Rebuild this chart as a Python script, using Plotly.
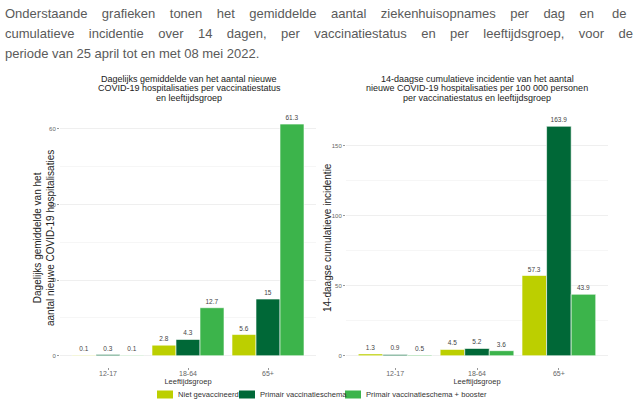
import plotly.graph_objects as go

# leeftijdsgroepen en vaccinatiestatus
groepen = ["12-17", "18-64", "65+"]
statussen = ["Niet gevaccineerd", "Primair vaccinatieschema", "Primair vaccinatieschema + booster"]
kleuren = ["#bccf00", "#006837", "#3cb44b"]

# dagelijks gemiddelde nieuwe hospitalisaties
dagelijks_niet = [0.1, 2.8, 5.6]
dagelijks_primair = [0.3, 4.3, 15]
dagelijks_booster = [0.1, 12.7, 61.3]

# 14-daagse cumulatieve incidentie per 100 000
incidentie_niet = [1.3, 4.5, 57.3]
incidentie_primair = [0.9, 5.2, 163.9]
incidentie_booster = [0.5, 3.6, 43.9]

intro = [
    "Onderstaande grafieken tonen het gemiddelde aantal ziekenhuisopnames per dag en de",
    "cumulatieve incidentie over 14 dagen, per vaccinatiestatus en per leeftijdsgroep, voor de",
    "periode van 25 april tot en met 08 mei 2022.",
]
# extra spaties om de eerste twee regels uit te vullen
intro_extra = [31, 33, 0]

titel_links = ["Dagelijks gemiddelde van het aantal nieuwe",
               "COVID-19 hospitalisaties per vaccinatiestatus",
               "en leeftijdsgroep"]
titel_rechts = ["14-daagse cumulatieve incidentie van het aantal",
                "nieuwe COVID-19 hospitalisaties per 100 000 personen",
                "per vaccinatiestatus en leeftijdsgroep"]

W, H = 640, 402
FONT = "Liberation Sans, Arial, sans-serif"


def px(x):
    return x / W


def py(y):
    return 1 - y / H


def uitvullen(regel, extra):
    woorden = regel.split(" ")
    gaten = len(woorden) - 1
    if extra == 0 or gaten == 0:
        return regel
    uit = woorden[0]
    for k in range(gaten):
        n = extra * (k + 1) // gaten - extra * k // gaten
        uit += " " + "\u00a0" * n + woorden[k + 1]
    return uit


fig = go.Figure()

links = [dagelijks_niet, dagelijks_primair, dagelijks_booster]
rechts = [incidentie_niet, incidentie_primair, incidentie_booster]

for i, status in enumerate(statussen):
    for waarden, xa, ya in [(links[i], "x", "y"), (rechts[i], "x2", "y2")]:
        fig.add_trace(go.Bar(
            x=groepen, y=waarden, name=status, xaxis=xa, yaxis=ya,
            marker=dict(color=kleuren[i], line=dict(color="white", width=0.6)),
            text=[f"{v:g}" for v in waarden], textposition="outside",
            textfont=dict(size=6.5, color="#444444"), constraintext="none",
            cliponaxis=False, showlegend=False,
        ))

as_stijl = dict(
    showgrid=True, gridcolor="#efefef", gridwidth=0.6, zeroline=False,
    ticks="outside", ticklen=2, tickcolor="#999999",
    tickfont=dict(size=6, color="#666666"),
)
x_stijl = dict(
    range=[-0.6, 2.6], showgrid=False, ticks="outside", ticklen=2, tickcolor="#999999",
    tickfont=dict(size=7, color="#666666"), ticklabelstandoff=-3,
    title=dict(text="Leeftijdsgroep", font=dict(size=7.5, color="#333333"), standoff=0),
)

fig.update_layout(
    width=W, height=H,
    margin=dict(l=0, r=0, t=0, b=0),
    paper_bgcolor="white", plot_bgcolor="white",
    barmode="group", bargap=0.1, bargroupgap=0,
    font=dict(family=FONT),
    showlegend=False,
    xaxis=dict(domain=[px(60), px(316)], anchor="y", **x_stijl),
    xaxis2=dict(domain=[px(346), px(608)], anchor="y2", **x_stijl),
    yaxis=dict(domain=[py(367.3), py(112.5)], range=[-3.065, 64.365], anchor="x",
               tickvals=[0, 20, 40, 60], minor=dict(showgrid=True, dtick=10, gridcolor="#f6f6f6"),
               **as_stijl),
    yaxis2=dict(domain=[py(367.2), py(114.8)], range=[-8.2, 172.1], anchor="x2",
                tickvals=[0, 50, 100, 150], minor=dict(showgrid=True, dtick=25, gridcolor="#f6f6f6"),
                **as_stijl),
)

annotaties = []
for j, regel in enumerate(intro):
    annotaties.append(dict(text=uitvullen(regel, intro_extra[j]), x=px(3), y=py(13 + 20.5 * j),
                           xref="paper", yref="paper", xanchor="left", yanchor="middle",
                           showarrow=False, font=dict(size=13, color="#5a5a5a")))

for j in range(3):
    for tekst, xc in [(titel_links[j], 189), (titel_rechts[j], 477)]:
        annotaties.append(dict(text=tekst, x=px(xc), y=py(78.5 + 9.7 * j), xref="paper", yref="paper",
                               xanchor="center", yanchor="middle", showarrow=False,
                               font=dict(size=9, color="#222222")))

annotaties.append(dict(
    text="Dagelijks gemiddelde van het<br>aantal nieuwe COVID-19 hospitalisaties",
    x=px(44), y=py(238), xref="paper", yref="paper", xanchor="center", yanchor="middle",
    textangle=-90, showarrow=False, font=dict(size=10, color="#222222")))
annotaties.append(dict(
    text="14-daagse cumulatieve incidentie",
    x=px(327), y=py(238), xref="paper", yref="paper", xanchor="center", yanchor="middle",
    textangle=-90, showarrow=False, font=dict(size=10, color="#222222")))

# legenda: gekleurde vakjes met tekst
legenda_x = [157, 239, 345]
vormen = []
for i, status in enumerate(statussen):
    x0 = legenda_x[i]
    vormen.append(dict(type="rect", xref="paper", yref="paper",
                       x0=px(x0), x1=px(x0 + 16), y0=py(398.5), y1=py(390.5),
                       fillcolor=kleuren[i], line=dict(width=0)))
    annotaties.append(dict(text=status, x=px(x0 + 19), y=py(394.5), xref="paper", yref="paper",
                           xanchor="left", yanchor="middle", showarrow=False,
                           font=dict(size=7.6, color="#333333")))

fig.update_layout(annotations=annotaties, shapes=vormen)

# standaard body-marge van de pagina weghalen zodat de figuur op (0, 0) begint
fig.write_html("out.html", config={"displayModeBar": False},
               post_script="document.body.style.margin = '0';")
